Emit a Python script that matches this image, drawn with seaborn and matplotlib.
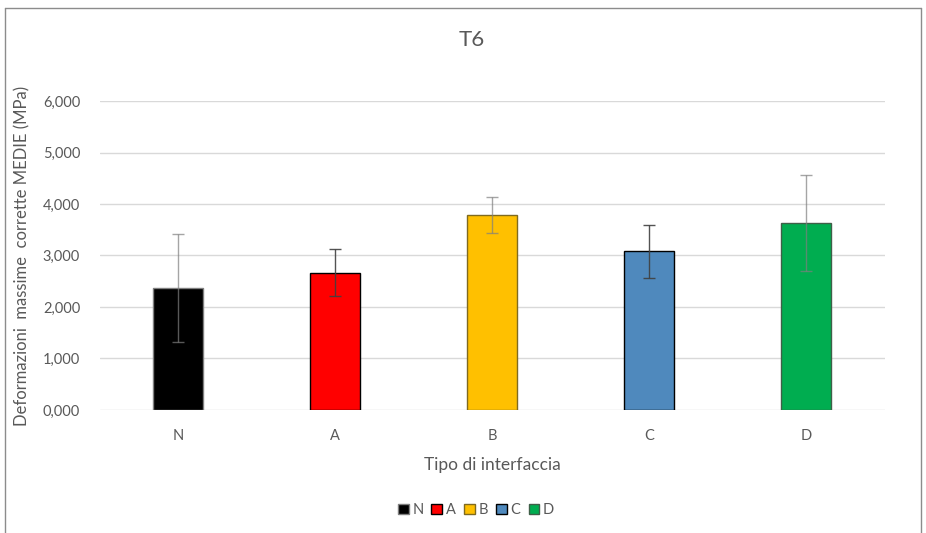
import matplotlib
matplotlib.use("Agg")
import matplotlib.pyplot as plt
from matplotlib.patches import Patch
from matplotlib.lines import Line2D
from matplotlib.ticker import FuncFormatter
import seaborn as sns
import pandas as pd

# Interface types with mean corrected maximum deformation and its spread
categories = ["N", "A", "B", "C", "D"]
means = [2.363, 2.666, 3.786, 3.081, 3.625]
errors = [1.045, 0.46, 0.355, 0.515, 0.935]
fill_colors = ["#000000", "#ff0000", "#ffc000", "#4f89bd", "#00ad50"]
edge_colors = ["#7f7f7f", "#000000", "#7f6a20", "#000000", "#3f5f48"]
err_colors = ["#7f7f7f", "#404040", "#7f7f7f", "#404040", "#7f7f7f"]
err_alpha = [0.7, 0.9, 0.7, 0.9, 0.7]
yticks = [0, 1, 2, 3, 4, 5, 6]

title = "T6"
xlabel = "Tipo di interfaccia"
ylabel = "Deformazioni  massime  corrette MEDIE (MPa)"

sns.set_theme(style="white")
plt.rcParams["font.family"] = ["Lato", "DejaVu Sans"]
text_color = "#595959"

df = pd.DataFrame({"tipo": categories, "valore": means})

fig = plt.figure(figsize=(9.26, 5.33), dpi=100)
ax = fig.add_axes([0.1075, 0.2308, 0.8477, 0.5797])

sns.barplot(data=df, x="tipo", y="valore", hue="tipo", order=categories,
            hue_order=categories, palette=fill_colors, width=0.318,
            errorbar=None, legend=False, ax=ax, saturation=1)

for patch, ec in zip(ax.patches, edge_colors):
    patch.set_edgecolor(ec)
    patch.set_linewidth(1.0)
    patch.set_zorder(2)

for i, (m, e) in enumerate(zip(means, errors)):
    ax.errorbar(i, m, yerr=e, fmt="none", ecolor=err_colors[i],
                alpha=err_alpha[i], elinewidth=1.0, capsize=4.5,
                capthick=1.0, zorder=3)

ax.set_xlim(-0.5, len(categories) - 0.5)
ax.set_ylim(0, 6)
ax.set_yticks(yticks)
ax.yaxis.set_major_formatter(
    FuncFormatter(lambda v, _: f"{v:.3f}".replace(".", ",")))
ax.grid(axis="y", color="#d9d9d9", linewidth=1.0, zorder=0)
ax.set_axisbelow(True)
for s in ax.spines.values():
    s.set_visible(False)
ax.tick_params(axis="y", length=0, pad=14, labelsize=10.5, labelcolor=text_color)
ax.tick_params(axis="x", length=0, pad=14, labelsize=10.5, labelcolor=text_color)

ax.set_xlabel(xlabel, fontsize=12.5, color=text_color, labelpad=10)
ax.set_ylabel(ylabel, fontsize=12, color=text_color, labelpad=9)
fig.text(472 / 926, 1 - 40 / 533, title, fontsize=16, color=text_color,
         ha="center", va="center")

handles = [Patch(facecolor=fc, edgecolor=ec, linewidth=1.0, label=c)
           for c, fc, ec in zip(categories, fill_colors, edge_colors)]
leg = fig.legend(handles=handles, loc="center", ncol=5,
                 bbox_to_anchor=(476 / 926, 1 - 510 / 533), frameon=False,
                 handlelength=0.75, handleheight=0.75, handletextpad=0.25,
                 columnspacing=0.55, fontsize=10.5)
for t in leg.get_texts():
    t.set_color(text_color)

# Chart frame
frame = "#8c8c8c"
fig.add_artist(Line2D([5 / 926, 921 / 926], [1 - 8 / 533, 1 - 8 / 533],
                      color=frame, linewidth=1.0))
fig.add_artist(Line2D([5 / 926, 5 / 926], [0, 1 - 8 / 533],
                      color=frame, linewidth=1.0))
fig.add_artist(Line2D([921 / 926, 921 / 926], [0, 1 - 8 / 533],
                      color=frame, linewidth=1.0))

fig.savefig("out.png", dpi=100)
